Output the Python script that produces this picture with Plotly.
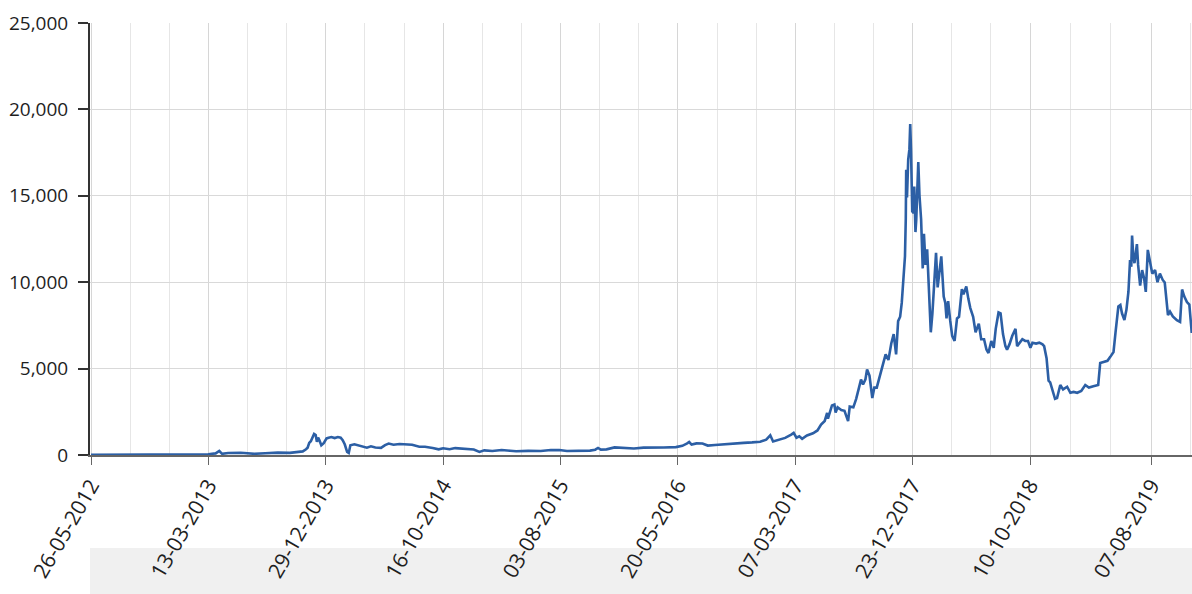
import pandas as pd
import plotly.graph_objects as go

# ---------------- data ----------------
D2012 = ["2012-05-26", "2012-07-01", "2012-08-16", "2012-08-20", "2012-10-01",
         "2012-11-15", "2012-12-31"]
P2012 = [5.1, 6.7, 13.5, 10.0, 12.4, 11.0, 13.5]

D2013 = ["2013-01-31", "2013-02-28", "2013-03-13", "2013-03-31", "2013-04-09",
         "2013-04-16", "2013-05-01", "2013-06-01", "2013-07-05", "2013-08-01",
         "2013-09-01", "2013-10-01", "2013-10-25", "2013-11-02", "2013-11-10",
         "2013-11-14", "2013-11-18", "2013-11-22", "2013-11-30", "2013-12-04",
         "2013-12-07", "2013-12-10", "2013-12-13", "2013-12-18", "2013-12-24",
         "2013-12-31"]
P2013 = [20, 33, 47, 93, 230,
         68, 117, 129, 68, 105,
         138, 125, 185, 210, 330,
         420, 700, 800, 1215, 1150,
         760, 1000, 870, 560, 680,
         960]

D2014 = ["2014-01-05", "2014-01-12", "2014-01-20", "2014-01-28", "2014-02-04",
         "2014-02-09", "2014-02-14", "2014-02-20", "2014-02-24", "2014-02-28",
         "2014-03-10", "2014-03-20", "2014-03-30", "2014-04-10", "2014-04-20",
         "2014-05-01", "2014-05-15", "2014-05-25", "2014-06-03", "2014-06-15",
         "2014-06-30", "2014-07-15", "2014-07-31", "2014-08-18", "2014-09-01",
         "2014-09-20", "2014-10-05", "2014-10-16", "2014-11-01", "2014-11-15",
         "2014-12-01", "2014-12-15", "2014-12-31"]
P2014 = [1000, 1040, 980, 1040, 1000,
         860, 620, 180, 120, 560,
         620, 560, 480, 420, 500,
         430, 410, 570, 660, 590,
         640, 620, 590, 480, 480,
         410, 330, 390, 330, 400,
         380, 350, 320]

D2015 = ["2015-01-14", "2015-01-26", "2015-02-15", "2015-03-10", "2015-03-31",
         "2015-04-15", "2015-05-15", "2015-06-15", "2015-07-10", "2015-07-31",
         "2015-08-19", "2015-09-15", "2015-10-15", "2015-10-28", "2015-11-04",
         "2015-11-11", "2015-11-25", "2015-12-15", "2015-12-31"]
P2015 = [180, 270, 235, 290, 245,
         220, 237, 235, 290, 285,
         230, 230, 255, 305, 405,
         310, 325, 440, 430]

D2016 = ["2016-01-15", "2016-02-01", "2016-02-25", "2016-03-15", "2016-04-15",
         "2016-05-15", "2016-05-31", "2016-06-12", "2016-06-17", "2016-06-23",
         "2016-07-05", "2016-07-20", "2016-08-02", "2016-08-20", "2016-09-15",
         "2016-10-15", "2016-10-30", "2016-11-20", "2016-12-10", "2016-12-25"]
P2016 = [380, 375, 425, 415, 430,
         455, 530, 670, 750, 600,
         670, 665, 545, 580, 610,
         640, 700, 730, 770, 890]

D2017 = ["2017-01-04", "2017-01-11", "2017-01-25", "2017-02-10", "2017-02-25",
         "2017-03-03", "2017-03-10", "2017-03-17", "2017-03-24", "2017-04-05",
         "2017-04-20", "2017-05-01", "2017-05-10", "2017-05-19", "2017-05-25",
         "2017-05-27", "2017-06-06", "2017-06-12", "2017-06-15", "2017-06-20",
         "2017-06-29", "2017-07-07", "2017-07-16", "2017-07-20", "2017-07-29",
         "2017-08-05", "2017-08-12", "2017-08-17", "2017-08-22", "2017-08-28",
         "2017-09-01", "2017-09-07", "2017-09-14", "2017-09-19", "2017-09-25",
         "2017-10-01", "2017-10-12", "2017-10-17", "2017-10-24", "2017-10-31",
         "2017-11-06", "2017-11-12", "2017-11-17", "2017-11-22", "2017-11-26",
         "2017-11-29", "2017-12-01", "2017-12-04", "2017-12-06", "2017-12-07",
         "2017-12-09", "2017-12-12", "2017-12-15", "2017-12-17", "2017-12-19",
         "2017-12-22", "2017-12-25", "2017-12-27", "2017-12-30"]
P2017 = [1140, 780, 895, 990, 1180,
         1280, 1000, 1080, 940, 1130,
         1260, 1420, 1760, 1970, 2440,
         2100, 2870, 2920, 2450, 2760,
         2600, 2560, 1960, 2800, 2760,
         3250, 3900, 4370, 4080, 4380,
         4950, 4600, 3300, 3900, 3900,
         4400, 5400, 5820, 5500, 6450,
         7000, 5820, 7750, 8000, 8800,
         9900, 10900, 11500, 13700, 16500,
         14900, 17100, 17700, 19150, 17600,
         14100, 14000, 15540, 12900]

D2018 = ["2018-01-01", "2018-01-06", "2018-01-09", "2018-01-13", "2018-01-16",
         "2018-01-17", "2018-01-20", "2018-01-24", "2018-01-28", "2018-02-01",
         "2018-02-06", "2018-02-10", "2018-02-14", "2018-02-19", "2018-02-23",
         "2018-02-26", "2018-03-04", "2018-03-10", "2018-03-14", "2018-03-17",
         "2018-03-21", "2018-03-26", "2018-03-31", "2018-04-06", "2018-04-12",
         "2018-04-17", "2018-04-24", "2018-04-28", "2018-05-05", "2018-05-10",
         "2018-05-15", "2018-05-22", "2018-05-28", "2018-06-05", "2018-06-11",
         "2018-06-18", "2018-06-24", "2018-06-29", "2018-07-06", "2018-07-12",
         "2018-07-17", "2018-07-24", "2018-07-29", "2018-08-04", "2018-08-10",
         "2018-08-14", "2018-08-20", "2018-08-27", "2018-09-04", "2018-09-08",
         "2018-09-14", "2018-09-21", "2018-09-28", "2018-10-05", "2018-10-11",
         "2018-10-16", "2018-10-25", "2018-11-02", "2018-11-10", "2018-11-14"]
P2018 = [13630, 16950, 15000, 13630, 11500,
         10800, 12800, 11000, 11900, 9200,
         7100, 8200, 9500, 11700, 9700,
         10300, 11490, 9170, 8800, 7900,
         8900, 7800, 6900, 6600, 7900,
         8000, 9600, 9300, 9750, 9050,
         8500, 8000, 7100, 7600, 6700,
         6700, 6100, 5900, 6600, 6200,
         7300, 8250, 8200, 7000, 6300,
         6100, 6400, 6900, 7300, 6300,
         6500, 6700, 6600, 6600, 6200,
         6500, 6450, 6500, 6400, 6300]

D2019 = ["2018-11-20", "2018-11-25", "2018-11-29", "2018-12-05", "2018-12-11",
         "2018-12-16", "2018-12-24", "2018-12-31", "2019-01-10", "2019-01-18",
         "2019-01-26", "2019-02-04", "2019-02-14", "2019-02-24", "2019-03-05",
         "2019-03-16", "2019-03-28", "2019-04-02", "2019-04-12", "2019-04-20",
         "2019-04-27", "2019-05-05", "2019-05-10", "2019-05-15", "2019-05-17",
         "2019-05-22", "2019-05-26", "2019-06-01", "2019-06-06", "2019-06-11",
         "2019-06-15", "2019-06-18", "2019-06-20", "2019-06-23", "2019-06-26",
         "2019-07-02", "2019-07-05", "2019-07-10", "2019-07-15", "2019-07-20",
         "2019-07-24", "2019-07-29", "2019-08-03", "2019-08-09", "2019-08-16",
         "2019-08-22", "2019-08-28", "2019-09-04", "2019-09-09", "2019-09-17",
         "2019-09-22", "2019-09-29", "2019-10-09", "2019-10-17", "2019-10-22",
         "2019-10-27", "2019-11-03", "2019-11-09", "2019-11-15"]
P2019 = [5600, 4300, 4200, 3700, 3250,
         3300, 4050, 3800, 3950, 3600,
         3650, 3600, 3700, 4050, 3900,
         3980, 4050, 5330, 5400, 5450,
         5680, 5960, 7090, 7990, 8590,
         8680, 8200, 7810, 8400, 9450,
         11280, 10900, 12700, 11500, 11100,
         12200, 11000, 9800, 10700, 10200,
         9440, 11870, 11300, 10500, 10700,
         10000, 10500, 10130, 9980, 8100,
         8300, 8020, 7800, 7700, 9580,
         9200, 8850, 8700, 7060]

TICK_LABELS = ["26-05-2012", "13-03-2013", "29-12-2013", "16-10-2014", "03-08-2015",
               "20-05-2016", "07-03-2017", "23-12-2017", "10-10-2018", "07-08-2019"]
Y_TICKS = [0, 5000, 10000, 15000, 20000, 25000]

# ---------------- assemble ----------------
dates = D2012 + D2013 + D2014 + D2015 + D2016 + D2017 + D2018 + D2019
prices = P2012 + P2013 + P2014 + P2015 + P2016 + P2017 + P2018 + P2019
assert len(dates) == len(prices)

tick_dates = list(pd.to_datetime(TICK_LABELS, format="%d-%m-%Y"))
minor_dates = []
for a, b in zip(tick_dates[:-1], tick_dates[1:]):
    step = (b - a) / 3
    minor_dates += [a + step, a + 2 * step]
last_step = tick_dates[1] - tick_dates[0]
minor_dates.append(tick_dates[-1] + last_step / 3)

x_start = pd.Timestamp("2012-05-23 12:00")
x_end = pd.Timestamp("2019-11-15 14:00")

FONT = "Open Sans"

fig = go.Figure()
fig.add_trace(go.Scatter(
    x=pd.to_datetime(dates), y=prices, mode="lines",
    line=dict(color="#2c5fa5", width=2.6),
    hoverinfo="x+y", showlegend=False,
))

fig.update_layout(
    width=1192, height=594,
    margin=dict(l=90, r=0, t=23, b=139),
    paper_bgcolor="white", plot_bgcolor="white",
    font=dict(family=FONT, color="#1e1e1e"),
    shapes=[dict(type="rect", xref="paper", yref="paper",
                 x0=0, x1=1, y0=-0.33, y1=-0.2153,
                 fillcolor="#f0f0f0", line=dict(width=0), layer="below")],
)

fig.update_xaxes(
    type="date", range=[x_start, x_end],
    tickmode="array", tickvals=tick_dates, ticktext=TICK_LABELS,
    tickangle=-60, ticks="outside", ticklen=8, tickwidth=1, tickcolor="#666",
    showline=True, linecolor="#666", linewidth=2,
    showgrid=True, gridcolor="#d6d6d6", gridwidth=1,
    minor=dict(tickmode="array", tickvals=minor_dates, showgrid=True,
               gridcolor="#e6e6e6", gridwidth=1, ticks=""),
    tickfont=dict(family=FONT, size=21, color="#1e1e1e"),
    zeroline=False, fixedrange=True,
)

fig.update_yaxes(
    range=[0, 25000], tickmode="array", tickvals=Y_TICKS,
    tickformat=",", ticks="outside", ticklen=10, tickwidth=2, tickcolor="#333",
    showline=True, linecolor="#333", linewidth=2,
    showgrid=True, gridcolor="#d9d9d9", gridwidth=1,
    zeroline=False, ticklabelstandoff=6,
    tickfont=dict(family=FONT, size=19, color="#1e1e1e"),
    fixedrange=True,
)

fig.write_html(
    "out.html",
    config={"displayModeBar": False},
    post_script="document.body.style.margin='0';document.body.style.padding='0';"
                "document.body.style.overflow='hidden';",
)
